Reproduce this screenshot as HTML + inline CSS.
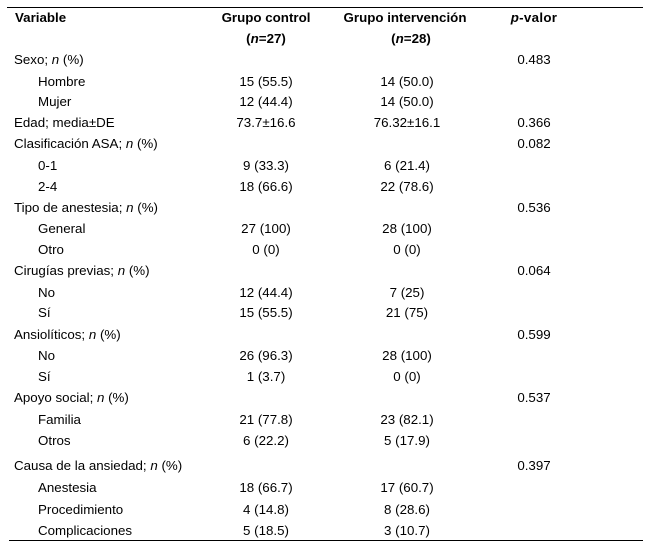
<!DOCTYPE html>
<html>
<head>
<meta charset="utf-8">
<style>
  html,body{margin:0;padding:0;background:#fff;}
  body{width:659px;height:553px;position:relative;overflow:hidden;
       font-family:"Liberation Sans",Arial,sans-serif;font-size:13.33px;color:#000;}
  .r{position:absolute;left:0;width:659px;height:16px;line-height:16px;white-space:nowrap;}
  .l{position:absolute;left:14px;}
  .i{position:absolute;left:38px;}
  .c1,.c2,.c3{position:absolute;width:200px;text-align:center;}
  .c1{left:166px;}
  .c2{left:307px;}
  .c3{left:434px;}
  .b{font-weight:bold;}
  em{font-style:italic;}
  .hl{position:absolute;height:1px;background:#000;}
</style>
</head>
<body>
<div class="hl" style="left:7px;width:636px;top:7px;"></div>
<div class="hl" style="left:9px;width:634px;top:540px;"></div>

<div class="r" style="top:10px;"><span class="l b" style="left:15px;">Variable</span><span class="c1 b">Grupo control</span><span class="c2 b" style="left:305px;">Grupo intervención</span><span class="c3 b" style="letter-spacing:0.3px;"><em>p</em>-valor</span></div>
<div class="r" style="top:31px;"><span class="c1 b">(<em>n</em>=27)</span><span class="c2 b" style="left:311px;">(<em>n</em>=28)</span></div>

<div class="r" style="top:52px;"><span class="l">Sexo; <em>n</em> (%)</span><span class="c3">0.483</span></div>
<div class="r" style="top:74px;"><span class="i">Hombre</span><span class="c1">15 (55.5)</span><span class="c2">14 (50.0)</span></div>
<div class="r" style="top:94px;"><span class="i">Mujer</span><span class="c1">12 (44.4)</span><span class="c2">14 (50.0)</span></div>
<div class="r" style="top:115px;"><span class="l">Edad; media±DE</span><span class="c1">73.7±16.6</span><span class="c2">76.32±16.1</span><span class="c3">0.366</span></div>
<div class="r" style="top:136px;"><span class="l">Clasificación ASA; <em>n</em> (%)</span><span class="c3">0.082</span></div>
<div class="r" style="top:158px;"><span class="i">0-1</span><span class="c1">9 (33.3)</span><span class="c2">6 (21.4)</span></div>
<div class="r" style="top:179px;"><span class="i">2-4</span><span class="c1">18 (66.6)</span><span class="c2">22 (78.6)</span></div>
<div class="r" style="top:200px;"><span class="l">Tipo de anestesia; <em>n</em> (%)</span><span class="c3">0.536</span></div>
<div class="r" style="top:221px;"><span class="i">General</span><span class="c1">27 (100)</span><span class="c2">28 (100)</span></div>
<div class="r" style="top:242px;"><span class="i">Otro</span><span class="c1">0 (0)</span><span class="c2">0 (0)</span></div>
<div class="r" style="top:263px;"><span class="l">Cirugías previas; <em>n</em> (%)</span><span class="c3">0.064</span></div>
<div class="r" style="top:285px;"><span class="i">No</span><span class="c1">12 (44.4)</span><span class="c2">7 (25)</span></div>
<div class="r" style="top:305px;"><span class="i">Sí</span><span class="c1">15 (55.5)</span><span class="c2">21 (75)</span></div>
<div class="r" style="top:327px;"><span class="l">Ansiolíticos; <em>n</em> (%)</span><span class="c3">0.599</span></div>
<div class="r" style="top:348px;"><span class="i">No</span><span class="c1">26 (96.3)</span><span class="c2">28 (100)</span></div>
<div class="r" style="top:369px;"><span class="i">Sí</span><span class="c1">1 (3.7)</span><span class="c2">0 (0)</span></div>
<div class="r" style="top:390px;"><span class="l">Apoyo social; <em>n</em> (%)</span><span class="c3">0.537</span></div>
<div class="r" style="top:412px;"><span class="i">Familia</span><span class="c1">21 (77.8)</span><span class="c2">23 (82.1)</span></div>
<div class="r" style="top:433px;"><span class="i">Otros</span><span class="c1">6 (22.2)</span><span class="c2">5 (17.9)</span></div>
<div class="r" style="top:458px;"><span class="l">Causa de la ansiedad; <em>n</em> (%)</span><span class="c3">0.397</span></div>
<div class="r" style="top:480px;"><span class="i">Anestesia</span><span class="c1">18 (66.7)</span><span class="c2">17 (60.7)</span></div>
<div class="r" style="top:502px;"><span class="i">Procedimiento</span><span class="c1">4 (14.8)</span><span class="c2">8 (28.6)</span></div>
<div class="r" style="top:523px;"><span class="i">Complicaciones</span><span class="c1">5 (18.5)</span><span class="c2">3 (10.7)</span></div>
</body>
</html>
